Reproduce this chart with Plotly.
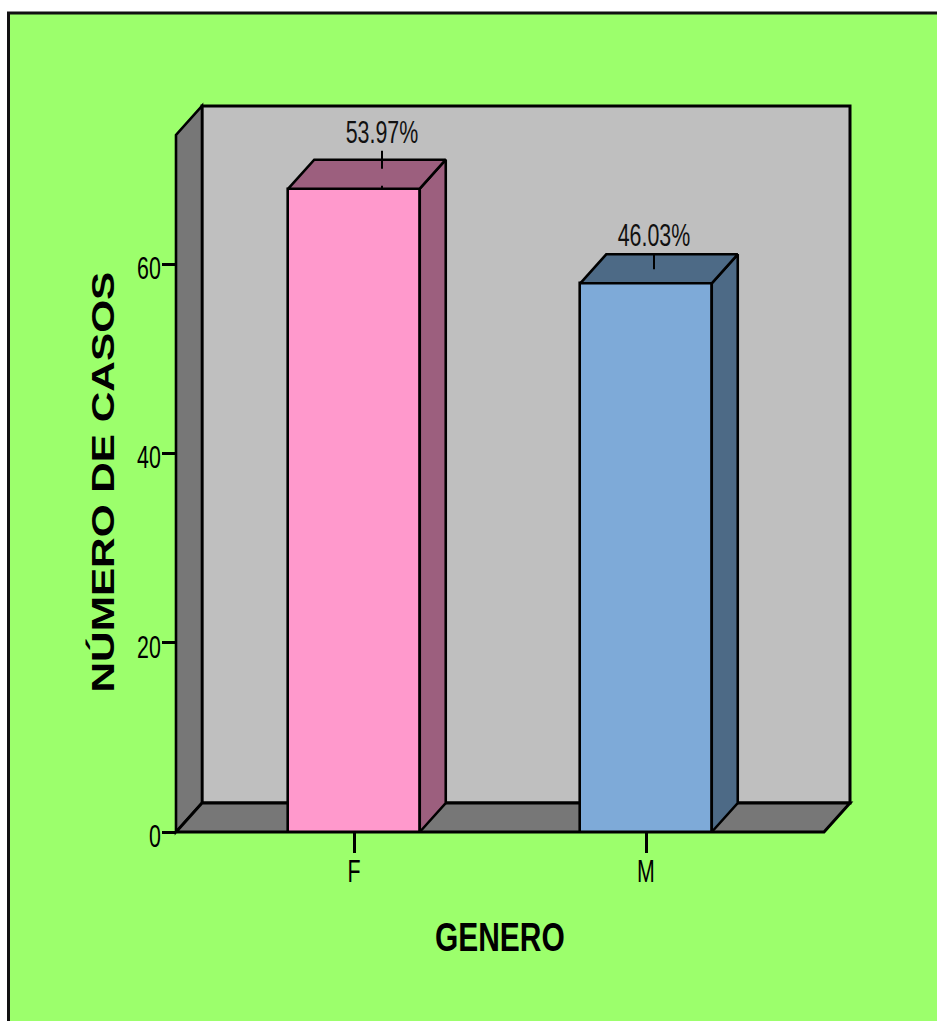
import plotly.graph_objects as go

# Data
categories = ["F", "M"]
cases = [68, 58]
percent_labels = ["53.97%", "46.03%"]
y_ticks = [0, 20, 40, 60]

# Figure geometry in pixels
FIG_W, FIG_H = 937, 1021
LEFT, RIGHT, TOP, BOTTOM = 176, 850, 105.5, 832
PAD = 4  # room around the walls so their outlines are not clipped
CAT_SPACING_PX = 292
FIRST_CAT_PX = 354
PX_PER_CASE = 9.467
DEPTH_X_PX, DEPTH_Y_PX = 26, 29
BAR_WIDTH = 131.5 / CAT_SPACING_PX

# Derived depth offsets and extents in axis units
depth_x = DEPTH_X_PX / CAT_SPACING_PX
depth_y = DEPTH_Y_PX / PX_PER_CASE
x_min = (LEFT - FIRST_CAT_PX) / CAT_SPACING_PX
x_max = (RIGHT - FIRST_CAT_PX) / CAT_SPACING_PX
y_max = (BOTTOM - TOP) / PX_PER_CASE
x_pad = PAD / CAT_SPACING_PX
y_pad = PAD / PX_PER_CASE
positions = list(range(len(categories)))

# Colours
GREEN = "#9CFF6C"
WALL = "#BFBFBF"
WALL_SIDE = "#777777"
FRONT = ["#FF99CC", "#7EAAD8"]
SIDE = ["#9C5F7E", "#4D6A86"]
EDGE = 2.6
FONT = "Liberation Sans"

fig = go.Figure()

# Front faces of the columns
fig.add_trace(go.Bar(
    x=positions, y=cases, width=BAR_WIDTH,
    marker=dict(color=FRONT, line=dict(color="black", width=EDGE)),
    hoverinfo="skip", showlegend=False,
))

# Right-hand and top faces of each column
for xc, v, side in zip(positions, cases, SIDE):
    xl, xr = xc - BAR_WIDTH / 2, xc + BAR_WIDTH / 2
    fig.add_trace(go.Scatter(
        x=[xr, xr + depth_x, xr + depth_x, xr, xr],
        y=[0, depth_y, v + depth_y, v, 0],
        mode="lines", fill="toself", fillcolor=side,
        line=dict(color="black", width=EDGE),
        hoverinfo="skip", showlegend=False,
    ))
    fig.add_trace(go.Scatter(
        x=[xl, xl + depth_x, xr + depth_x, xr, xl],
        y=[v, v + depth_y, v + depth_y, v, v],
        mode="lines", fill="toself", fillcolor=side,
        line=dict(color="black", width=EDGE),
        hoverinfo="skip", showlegend=False,
    ))

# Percentage labels with their leader lines
label_shift_px = [28, 8]
leader_gap_px = [[38, 20], [30, 14]]
for xc, v, txt, shift, gap in zip(positions, cases, percent_labels, label_shift_px, leader_gap_px):
    lx = xc + shift / CAT_SPACING_PX
    fig.add_trace(go.Scatter(
        x=[lx, lx], y=[v + gap[0] / PX_PER_CASE, v + gap[1] / PX_PER_CASE],
        mode="lines", line=dict(color="black", width=2),
        hoverinfo="skip", showlegend=False,
    ))
    fig.add_trace(go.Scatter(
        x=[lx], y=[v + (gap[0] + 15) / PX_PER_CASE],
        mode="text", text=[txt], textposition="middle center",
        textfont=dict(family=FONT, size=31, color="#111111"),
        hoverinfo="skip", showlegend=False,
    ))

# Stub of the first leader crossing the front top edge
fig.add_trace(go.Scatter(
    x=[label_shift_px[0] / CAT_SPACING_PX] * 2,
    y=[cases[0] + 3 / PX_PER_CASE, cases[0] - 1 / PX_PER_CASE],
    mode="lines", line=dict(color="black", width=2),
    hoverinfo="skip", showlegend=False,
))

plot_w = RIGHT - LEFT + 2 * PAD
plot_h = BOTTOM - TOP + 2 * PAD
paper_x = lambda px: (px - (LEFT - PAD)) / plot_w
paper_y = lambda px: ((BOTTOM + PAD) - px) / plot_h

shapes = [
    # Chart background with its frame
    dict(type="rect", xref="paper", yref="paper", layer="below",
         x0=paper_x(8.5), x1=paper_x(FIG_W + 20), y0=paper_y(FIG_H + 20), y1=paper_y(12.5),
         fillcolor=GREEN, line=dict(color="#111111", width=3)),
    # Back wall
    dict(type="rect", layer="below", x0=x_min + depth_x, x1=x_max, y0=depth_y, y1=y_max,
         fillcolor=WALL, line=dict(color="black", width=3)),
    # Left wall
    dict(type="path", layer="below",
         path=f"M {x_min} 0 L {x_min + depth_x} {depth_y} L {x_min + depth_x} {y_max} "
              f"L {x_min} {y_max - depth_y} Z",
         fillcolor=WALL_SIDE, line=dict(color="black", width=EDGE)),
    # Floor
    dict(type="path", layer="below",
         path=f"M {x_min} 0 L {x_max - depth_x} 0 L {x_max} {depth_y} "
              f"L {x_min + depth_x} {depth_y} Z",
         fillcolor=WALL_SIDE, line=dict(color="black", width=3)),
]

annotations = [
    dict(text="<b>GENERO</b>", xref="paper", yref="paper", x=paper_x(500), y=paper_y(937),
         showarrow=False, xanchor="center", yanchor="middle",
         font=dict(family=FONT, size=41, color="black")),
    dict(text="<b>NÚMERO DE CASOS</b>", xref="paper", yref="paper", x=paper_x(103), y=paper_y(482),
         showarrow=False, textangle=-90, xanchor="center", yanchor="middle",
         font=dict(family=FONT, size=31, color="black")),
]

fig.update_layout(
    width=FIG_W, height=FIG_H, autosize=False,
    margin=dict(l=LEFT - PAD, r=FIG_W - RIGHT - PAD, t=TOP - PAD, b=FIG_H - BOTTOM - PAD, pad=0),
    paper_bgcolor="white", plot_bgcolor="rgba(0,0,0,0)",
    shapes=shapes, annotations=annotations, showlegend=False, bargap=0,
    xaxis=dict(range=[x_min - x_pad, x_max + x_pad],
               anchor="free", position=paper_y(BOTTOM),
               tickmode="array", tickvals=positions, ticktext=categories,
               ticks="outside", ticklen=20, tickwidth=2.5, tickcolor="black",
               showgrid=False, zeroline=False, showline=False,
               tickfont=dict(family=FONT, size=31, color="black")),
    yaxis=dict(range=[-y_pad, y_max + y_pad],
               anchor="free", position=paper_x(LEFT),
               tickmode="array", tickvals=y_ticks, ticktext=[str(t) for t in y_ticks],
               ticks="outside", ticklen=14, tickwidth=3, tickcolor="black",
               showgrid=False, zeroline=False, showline=False,
               tickfont=dict(family=FONT, size=31, color="black")),
)

# Condense or widen the text along its baseline and nudge it, keeping it as live SVG text
TEXT_SCALE_JS = """
function squeeze(t, sx, anchor, dx, dy) {
  var b = t.getBBox();
  var ax = anchor === 'end' ? b.x + b.width : b.x + b.width / 2;
  var prior = t.getAttribute('transform') || '';
  t.setAttribute('transform', prior + ' translate(' + (ax + dx) + ',' + dy + ') scale(' + sx + ',1) translate(' + (-ax) + ',0)');
}
document.querySelectorAll('.ytick text').forEach(function (t) { squeeze(t, 0.69, 'end', 5, 4); });
document.querySelectorAll('.xtick text').forEach(function (t) { squeeze(t, 0.69, 'middle', 0, -8); });
document.querySelectorAll('.textpoint text').forEach(function (t) { squeeze(t, 0.69, 'middle', 0, 0); });
document.querySelectorAll('.annotation-text').forEach(function (t) {
  squeeze(t, t.textContent.indexOf('GENERO') >= 0 ? 0.73 : 1.365, 'middle', 0, 0);
});
"""

fig.write_html("out.html", post_script=TEXT_SCALE_JS)
